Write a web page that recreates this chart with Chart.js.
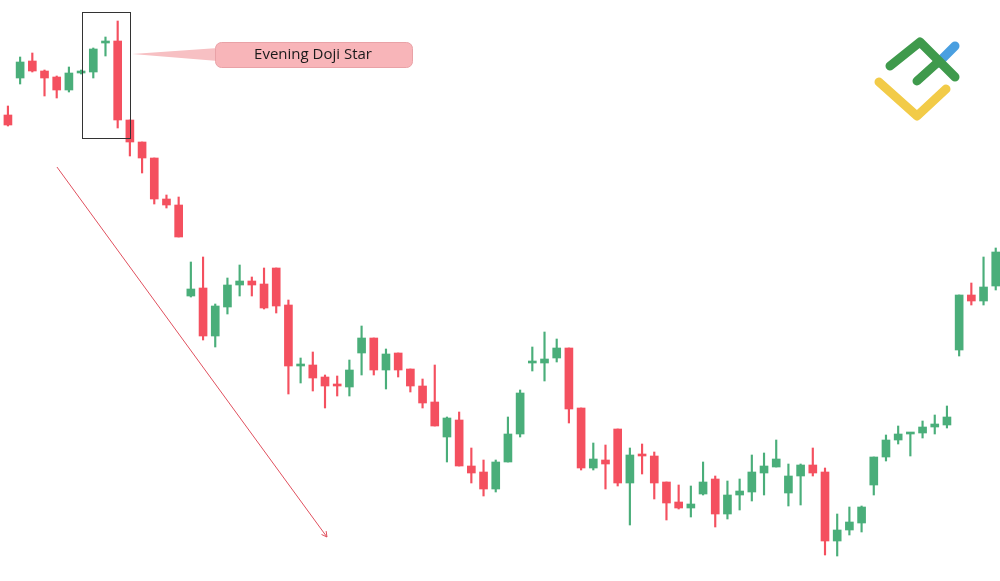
<!DOCTYPE html>
<html><head><meta charset="utf-8">
<script src="https://cdn.jsdelivr.net/npm/chart.js@4.4.1/dist/chart.umd.min.js"></script>
<style>html,body{margin:0;padding:0;background:#fff}#wrap{width:1000px;height:581px}</style>
</head><body><div id="wrap"><canvas id="c"></canvas></div>
<script>
// price = arbitrary units
const opens  = [485,522,539,529,523,510,527,528,557,559, 480,458,442,401,395,304,312,264,293,315, 319,316,332,295,234,235,223,215,213,247, 262,230,247,231,214,198,163,180,134,128, 111,138,166,237,237,242,252,192,132,140, 171,117,145,144,118,98,92,106,121,86, 105,108,127,133,107,124,135,128,59,70, 77,115,143,160,166,167,173,175,250,305, 299,314];
const closes = [475,538,529,522,510,527,528,551,558,480, 458,442,401,395,363,311,264,294,315,319, 315,292,294,234,235,222,214,214,230,262, 230,246,230,214,197,174,182,134,127,111, 138,166,207,238,241,252,191,132,141,136, 117,145,144,117,97,92,96,118,86,105, 109,128,134,141,124,135,127,59,70,78, 93,143,160,166,167,173,176,183,305,299, 313,348];
const highs  = [494,543,547,530,524,533,530,552,563,579, 480,458,442,405,403,338,343,296,322,335, 323,332,332,300,242,248,225,224,240,274, 262,251,247,231,221,235,183,188,152,140, 140,183,210,253,268,261,252,192,157,155, 171,152,156,148,118,115,114,138,124,119, 121,145,147,160,136,136,152,132,86,93, 94,143,165,174,167,179,185,194,305,317, 343,352];
const lows   = [474,516,528,504,502,508,526,522,544,472, 444,427,396,392,363,303,260,253,286,304, 304,291,287,206,217,209,192,204,204,225, 225,211,223,208,192,174,138,134,117,104, 108,138,163,229,219,238,177,130,130,111, 114,75,126,101,80,91,83,105,73,81, 90,99,105,133,94,95,124,45,44,65, 68,105,139,156,144,162,166,172,244,295, 295,310];

const n = opens.length;
const idx = opens.map((_,i)=>i);
const red='#f4505f', green='#4aae7a';
const col = idx.map(i=> closes[i]>=opens[i]?green:red);
const bodies = idx.map(i=>({x:i,y:[Math.min(opens[i],closes[i]),Math.max(opens[i],closes[i])]}));
const wicks = idx.map(i=>({x:i,y:[lows[i],highs[i]]}));

const deco = {
  id:'deco',
  afterDatasetsDraw(ch){
    const c=ch.ctx, xs=ch.scales.x, ys=ch.scales.y;
    c.save();
    c.strokeStyle='#333'; c.lineWidth=1;
    const bx1=xs.getPixelForValue(6.07), bx2=xs.getPixelForValue(10.02), by1=ys.getPixelForValue(588), by2=ys.getPixelForValue(462);
    c.strokeRect(Math.round(bx1)+0.5,Math.round(by1)+0.5,Math.round(bx2-bx1),Math.round(by2-by1));
    c.fillStyle='#f7c0c3';
    c.beginPath(); c.moveTo(bx2+2,54); c.lineTo(218,48); c.lineTo(218,61); c.closePath(); c.fill();
    c.beginPath(); c.roundRect(215.5,42.5,197,25,6); c.fillStyle='#f8b5b9'; c.fill(); c.strokeStyle='#e9a2a7'; c.stroke();
    c.fillStyle='#1a1a1a'; c.font='500 15px "Open Sans", sans-serif'; c.textAlign='center'; c.textBaseline='middle';
    c.fillText('Evening Doji Star',313,55);
    const ax1=xs.getPixelForValue(4.02), ay1=ys.getPixelForValue(433), ax2=xs.getPixelForValue(26.16), ay2=ys.getPixelForValue(63);
    c.strokeStyle='#e0505e'; c.lineWidth=1;
    c.beginPath(); c.moveTo(ax1,ay1); c.lineTo(ax2,ay2); c.stroke();
    const a=Math.atan2(ay2-ay1,ax2-ax1);
    c.beginPath(); c.moveTo(ax2-6*Math.cos(a-0.5),ay2-6*Math.sin(a-0.5)); c.lineTo(ax2,ay2); c.lineTo(ax2-6*Math.cos(a+0.5),ay2-6*Math.sin(a+0.5)); c.stroke();
    c.lineCap='round'; c.lineJoin='round'; c.lineWidth=9;
    c.strokeStyle='#f2cb48'; c.beginPath(); c.moveTo(879,82); c.lineTo(917,116); c.lineTo(946,89); c.stroke();
    c.strokeStyle='#4a9fe0'; c.beginPath(); c.moveTo(938,63); c.lineTo(955,46); c.stroke();
    c.strokeStyle='#3f9a4c'; c.beginPath(); c.moveTo(890,66); c.lineTo(920,42); c.lineTo(955,77); c.stroke();
    c.beginPath(); c.moveTo(917,81); c.lineTo(937,63); c.stroke();
    c.restore();
  }
};

new Chart(document.getElementById('c'),{
  type:'bar',
  data:{datasets:[
    {data:wicks, backgroundColor:col, barThickness:1.5, grouped:false, order:2, minBarLength:0},
    {data:bodies, backgroundColor:col, barThickness:8, grouped:false, order:1, minBarLength:2}
  ]},
  options:{
    responsive:true, maintainAspectRatio:false, animation:false,
    layout:{padding:0},
    plugins:{legend:{display:false},tooltip:{enabled:false}},
    scales:{
      x:{type:'linear', offset:false, min:-0.65, max:n-1+0.35, display:false},
      y:{min:19, max:600, display:false}
    }
  },
  plugins:[deco]
});
</script></body></html>
